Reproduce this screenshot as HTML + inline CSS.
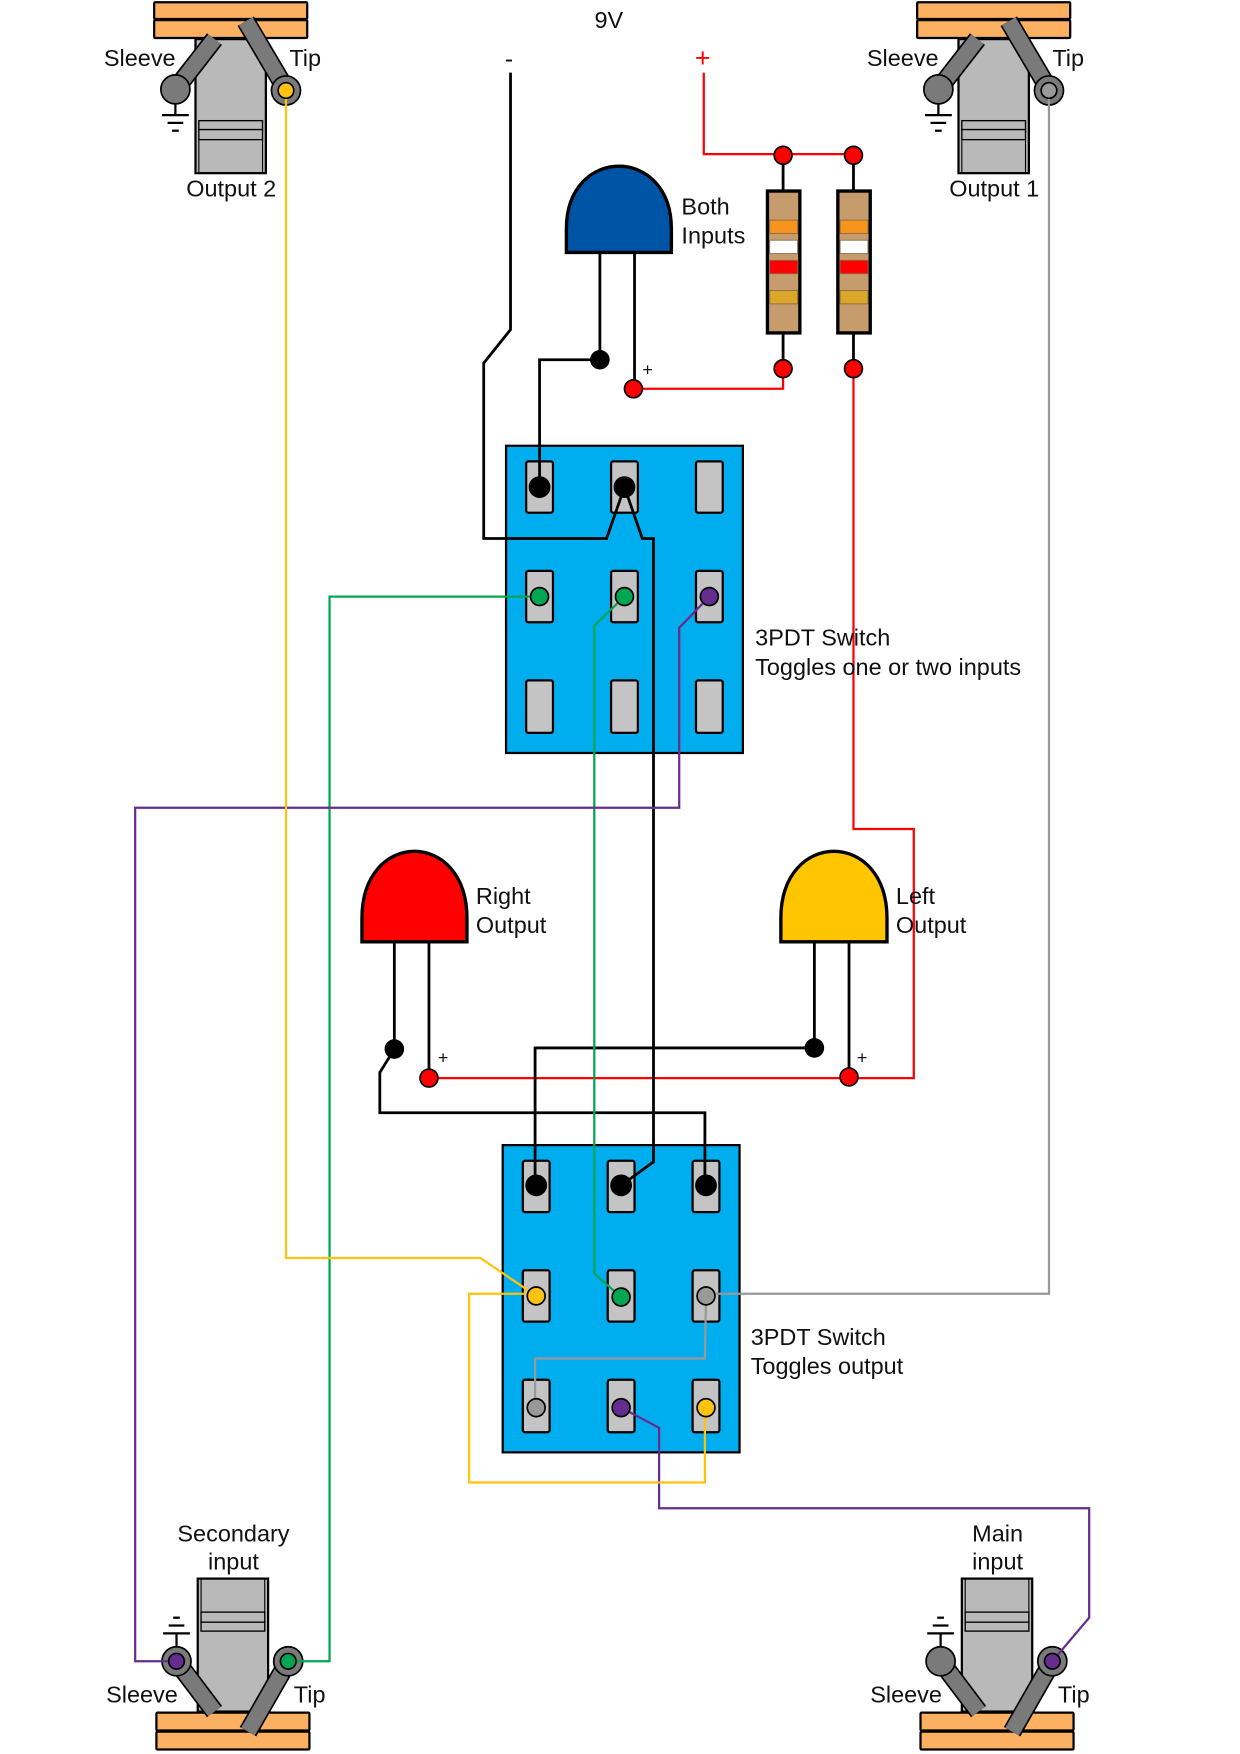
<!DOCTYPE html>
<html><head><meta charset="utf-8"><style>
html,body{margin:0;padding:0;background:#fff}
svg{display:block}
text{font-family:"Liberation Sans",sans-serif;font-size:21px;fill:#111}
</style></head><body>
<svg width="1240" height="1754" viewBox="0 0 1110 1570" preserveAspectRatio="none" xmlns="http://www.w3.org/2000/svg">
<defs>
<g id="jackTop">
  <rect x="0" y="2" width="137" height="15" rx="1" fill="#fbb062" stroke="#000" stroke-width="2"/>
  <rect x="0" y="18" width="137" height="16" rx="1" fill="#fbb062" stroke="#000" stroke-width="2"/>
  <rect x="37" y="35" width="63" height="120" fill="#b9b9b9" stroke="#000" stroke-width="2"/>
  <rect x="40" y="108" width="57" height="8" fill="#b9b9b9" stroke="#000" stroke-width="1.2"/>
  <rect x="40" y="116" width="57" height="9" fill="#b9b9b9" stroke="#000" stroke-width="1.2"/>
  <line x1="40" y1="125" x2="40" y2="155" stroke="#000" stroke-width="1"/>
  <line x1="97" y1="125" x2="97" y2="155" stroke="#000" stroke-width="1"/>
  <line x1="54" y1="35" x2="19" y2="80" stroke="#000" stroke-width="17"/>
  <line x1="54" y1="35" x2="19" y2="80" stroke="#7a7a7a" stroke-width="14"/>
  <line x1="82" y1="19" x2="118" y2="80" stroke="#000" stroke-width="17"/>
  <line x1="82" y1="19" x2="118" y2="80" stroke="#7a7a7a" stroke-width="14"/>
  <line x1="19" y1="80" x2="19" y2="103" stroke="#000" stroke-width="2"/>
  <line x1="7" y1="103" x2="31" y2="103" stroke="#000" stroke-width="2"/>
  <line x1="12" y1="110" x2="26" y2="110" stroke="#000" stroke-width="2"/>
  <line x1="16" y1="117" x2="22" y2="117" stroke="#000" stroke-width="2"/>
  <circle cx="19" cy="80" r="13" fill="#7a7a7a" stroke="#000" stroke-width="1.5"/>
  <circle cx="118" cy="81" r="13" fill="#7a7a7a" stroke="#000" stroke-width="1.5"/>
</g>
<g id="jackBot">
  <rect x="0" y="1533" width="137" height="16" rx="1" fill="#fbb062" stroke="#000" stroke-width="2"/>
  <rect x="0" y="1550" width="137" height="16" rx="1" fill="#fbb062" stroke="#000" stroke-width="2"/>
  <rect x="37" y="1413" width="63" height="119" fill="#b9b9b9" stroke="#000" stroke-width="2"/>
  <rect x="40" y="1443" width="57" height="9" fill="#b9b9b9" stroke="#000" stroke-width="1.2"/>
  <rect x="40" y="1452" width="57" height="8" fill="#b9b9b9" stroke="#000" stroke-width="1.2"/>
  <line x1="40" y1="1413" x2="40" y2="1443" stroke="#000" stroke-width="1"/>
  <line x1="97" y1="1413" x2="97" y2="1443" stroke="#000" stroke-width="1"/>
  <line x1="52" y1="1532" x2="18" y2="1487" stroke="#000" stroke-width="17"/>
  <line x1="52" y1="1532" x2="18" y2="1487" stroke="#7a7a7a" stroke-width="14"/>
  <line x1="82" y1="1550" x2="118" y2="1487" stroke="#000" stroke-width="17"/>
  <line x1="82" y1="1550" x2="118" y2="1487" stroke="#7a7a7a" stroke-width="14"/>
  <line x1="18" y1="1487" x2="18" y2="1462" stroke="#000" stroke-width="2"/>
  <line x1="6" y1="1462" x2="30" y2="1462" stroke="#000" stroke-width="2"/>
  <line x1="11" y1="1455" x2="25" y2="1455" stroke="#000" stroke-width="2"/>
  <line x1="15" y1="1448" x2="21" y2="1448" stroke="#000" stroke-width="2"/>
  <circle cx="18" cy="1487" r="13" fill="#7a7a7a" stroke="#000" stroke-width="1.5"/>
  <circle cx="118" cy="1487" r="13" fill="#7a7a7a" stroke="#000" stroke-width="1.5"/>
</g>
<g id="sw">
  <rect x="0" y="0" width="212" height="275" fill="#00adef" stroke="#000" stroke-width="2"/>
  <rect x="18" y="14" width="24" height="46" rx="2" fill="#c4c4c4" stroke="#000" stroke-width="2"/>
  <rect x="94" y="14" width="24" height="46" rx="2" fill="#c4c4c4" stroke="#000" stroke-width="2"/>
  <rect x="170" y="14" width="24" height="46" rx="2" fill="#c4c4c4" stroke="#000" stroke-width="2"/>
  <rect x="18" y="112" width="24" height="46" rx="2" fill="#c4c4c4" stroke="#000" stroke-width="2"/>
  <rect x="94" y="112" width="24" height="46" rx="2" fill="#c4c4c4" stroke="#000" stroke-width="2"/>
  <rect x="170" y="112" width="24" height="46" rx="2" fill="#c4c4c4" stroke="#000" stroke-width="2"/>
  <rect x="18" y="210" width="24" height="47" rx="2" fill="#c4c4c4" stroke="#000" stroke-width="2"/>
  <rect x="94" y="210" width="24" height="47" rx="2" fill="#c4c4c4" stroke="#000" stroke-width="2"/>
  <rect x="170" y="210" width="24" height="47" rx="2" fill="#c4c4c4" stroke="#000" stroke-width="2"/>
</g>
<g id="res">
  <rect x="0" y="0" width="29" height="127" fill="#c69c6d" stroke="#000" stroke-width="3"/>
  <rect x="2" y="26" width="25" height="12" fill="#f7941d" stroke="#8a6a45" stroke-width="0.8"/>
  <rect x="2" y="44" width="25" height="12" fill="#ffffff" stroke="#8a6a45" stroke-width="0.8"/>
  <rect x="2" y="62" width="25" height="12" fill="#ff0000" stroke="#8a6a45" stroke-width="0.8"/>
  <rect x="2" y="89" width="25" height="12" fill="#dba72a" stroke="#8a6a45" stroke-width="0.8"/>
</g>
</defs>

<use href="#jackTop" x="138" y="0"/>
<use href="#jackTop" x="821" y="0"/>
<use href="#jackBot" x="140" y="0"/>
<use href="#jackBot" x="824" y="0"/>

<use href="#sw" x="453" y="399"/>
<use href="#sw" x="450" y="1025"/>

<path d="M507,226 L507,205 C507,130 601,130 601,205 L601,226 Z" fill="#0054a6" stroke="#000" stroke-width="3"/>
<path d="M324,843 L324,822 C324,742 418,742 418,822 L418,843 Z" fill="#ff0000" stroke="#000" stroke-width="3"/>
<path d="M699,843 L699,822 C699,742 794,742 794,822 L794,843 Z" fill="#ffc600" stroke="#000" stroke-width="3"/>
<g stroke="#000" stroke-width="2.5" fill="none">
<line x1="537" y1="226" x2="537" y2="322"/><line x1="568" y1="226" x2="568" y2="348"/>
<line x1="353" y1="843" x2="353" y2="939"/><line x1="384" y1="843" x2="384" y2="965"/>
<line x1="729" y1="843" x2="729" y2="938"/><line x1="760" y1="843" x2="760" y2="964"/>
</g>

<g stroke="#000" stroke-width="2.5"><line x1="701" y1="139" x2="701" y2="330"/><line x1="764" y1="139" x2="764" y2="330"/></g>
<use href="#res" x="687" y="171"/>
<use href="#res" x="750" y="171"/>

<g fill="none" stroke-width="2" stroke-linejoin="miter">
<polyline stroke="#ff0000" points="630,65 630,138 764,138"/>
<polyline stroke="#ff0000" points="701,330 701,348 567,348"/>
<polyline stroke="#ff0000" points="764,330 764,742 818,742 818,965 384,965"/>
<polyline stroke="#000" stroke-width="2.5" points="457,65 457,295 433,325 433,482 543,482 559,436 575,482 585,482 585,1040 556,1061"/>
<polyline stroke="#000" stroke-width="2.5" points="537,322 483,322 483,436"/>
<polyline stroke="#000" stroke-width="2.5" points="353,939 340,960 340,996 631,996 631,1061"/>
<polyline stroke="#000" stroke-width="2.5" points="729,938 479,938 479,1061"/>
<polyline stroke="#00a651" points="483,534 295,534 295,1487 258,1487"/>
<polyline stroke="#00a651" points="559,534 532,560 532,1140 556,1161"/>
<polyline stroke="#662d91" points="635,534 608,562 608,723 121,723 121,1487 158,1487"/>
<polyline stroke="#662d91" points="556,1260 590,1278 590,1350 975,1350 975,1448 942,1487"/>
<polyline stroke="#ffc20e" points="256,81 256,1126 430,1126 480,1160"/>
<polyline stroke="#ffc20e" points="480,1158 420,1158 420,1327 631,1327 631,1260"/>
<polyline stroke="#999" points="632,1158 939,1158 939,81"/>
<polyline stroke="#999" points="632,1160 631,1216 479,1216 479,1260"/>
</g>

<g stroke="#000" stroke-width="1.5">
<circle cx="701" cy="139" r="8" fill="#ff0000"/><circle cx="764" cy="139" r="8" fill="#ff0000"/>
<circle cx="701" cy="330" r="8" fill="#ff0000"/><circle cx="764" cy="330" r="8" fill="#ff0000"/>
<circle cx="567" cy="348" r="8" fill="#ff0000"/><circle cx="537" cy="322" r="8" fill="#000"/>
<circle cx="483" cy="436" r="9" fill="#000"/><circle cx="559" cy="436" r="9" fill="#000"/>
<circle cx="483" cy="534" r="8" fill="#00a651"/><circle cx="559" cy="534" r="8" fill="#00a651"/><circle cx="635" cy="534" r="8" fill="#662d91"/>
<circle cx="353" cy="939" r="8" fill="#000"/><circle cx="384" cy="965" r="8" fill="#ff0000"/>
<circle cx="729" cy="938" r="8" fill="#000"/><circle cx="760" cy="964" r="8" fill="#ff0000"/>
<circle cx="480" cy="1061" r="9" fill="#000"/><circle cx="556" cy="1061" r="9" fill="#000"/><circle cx="632" cy="1061" r="9" fill="#000"/>
<circle cx="480" cy="1160" r="8" fill="#ffc20e"/><circle cx="556" cy="1161" r="8" fill="#00a651"/><circle cx="632" cy="1160" r="8" fill="#999"/>
<circle cx="480" cy="1260" r="8" fill="#999"/><circle cx="556" cy="1260" r="8" fill="#662d91"/><circle cx="632" cy="1260" r="8" fill="#ffc20e"/>
<circle cx="256" cy="81" r="7" fill="#ffc20e"/><circle cx="939" cy="81" r="7" fill="#999"/>
<circle cx="158" cy="1487" r="7" fill="#662d91"/><circle cx="258" cy="1487" r="7" fill="#00a651"/>
<circle cx="942" cy="1487" r="7" fill="#662d91"/>
</g>

<text x="93" y="59">Sleeve</text><text x="259" y="59">Tip</text>
<text x="207" y="176" text-anchor="middle">Output 2</text>
<text x="776" y="59">Sleeve</text><text x="942" y="59">Tip</text>
<text x="890" y="176" text-anchor="middle">Output 1</text>
<text x="545" y="25" text-anchor="middle">9V</text>
<text x="452" y="60" style="font-size:22px">-</text>
<text x="622" y="60" style="font-size:24px;fill:#ff0000">+</text>
<text x="610" y="192">Both</text><text x="610" y="218">Inputs</text>
<text x="575" y="336" style="font-size:16px">+</text>
<text x="676" y="578">3PDT Switch</text><text x="676" y="604">Toggles one or two inputs</text>
<text x="426" y="809">Right</text><text x="426" y="835">Output</text>
<text x="802" y="809">Left</text><text x="802" y="835">Output</text>
<text x="392" y="952" style="font-size:16px">+</text>
<text x="767" y="952" style="font-size:16px">+</text>
<text x="672" y="1204">3PDT Switch</text><text x="672" y="1230">Toggles output</text>
<text x="209" y="1380" text-anchor="middle">Secondary</text><text x="209" y="1405" text-anchor="middle">input</text>
<text x="95" y="1524">Sleeve</text><text x="263" y="1524">Tip</text>
<text x="893" y="1380" text-anchor="middle">Main</text><text x="893" y="1405" text-anchor="middle">input</text>
<text x="779" y="1524">Sleeve</text><text x="947" y="1524">Tip</text>
</svg>
</body></html>
